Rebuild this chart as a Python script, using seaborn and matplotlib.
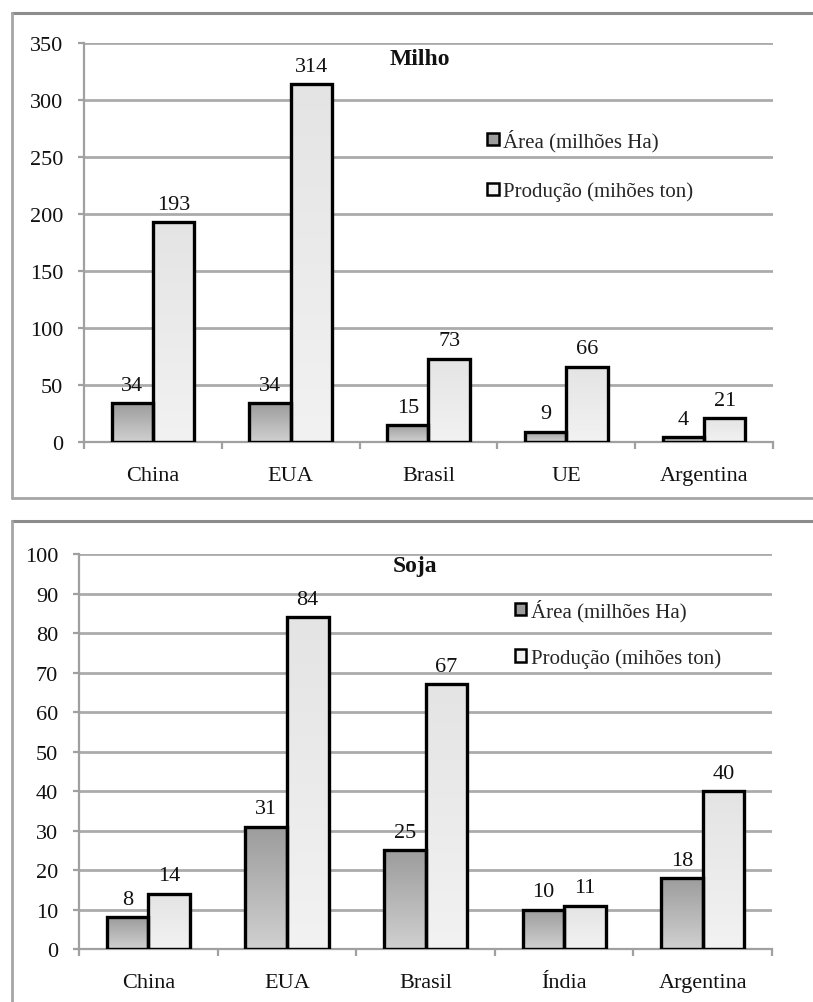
import numpy as np
import pandas as pd
import matplotlib
matplotlib.use("Agg")
import matplotlib.pyplot as plt
import seaborn as sns
from matplotlib.patches import Patch
from matplotlib.lines import Line2D
from matplotlib.colors import LinearSegmentedColormap

# Milho: área plantada e produção dos maiores produtores
milho_paises = ["China", "EUA", "Brasil", "UE", "Argentina"]
milho_area = [34, 34, 15, 9, 4]
milho_producao = [193, 314, 73, 66, 21]

# Soja: área plantada e produção dos maiores produtores
soja_paises = ["China", "EUA", "Brasil", "Índia", "Argentina"]
soja_area = [8, 31, 25, 10, 18]
soja_producao = [14, 84, 67, 11, 40]

serie_area = "Área (milhões Ha)"
serie_prod = "Produção (mihões ton)"

sns.set_theme(style="white")
plt.rcParams["font.family"] = ["Liberation Serif", "DejaVu Serif"]

GRID = "#ababab"
AXIS = "#a0a0a0"
AREA_TOPO, AREA_BASE = "#9c9c9c", "#d0d0d0"
PROD_TOPO, PROD_BASE = "#e4e4e4", "#f2f2f2"


def gradiente(ax, barra, c_topo, c_base):
    x0, y0 = barra.get_x(), barra.get_y()
    w, h = barra.get_width(), barra.get_height()
    cmap = LinearSegmentedColormap.from_list("grad", [c_base, c_topo])
    grad = np.linspace(0, 1, 256).reshape(-1, 1)
    im = ax.imshow(grad, extent=(x0, x0 + w, y0, y0 + h), origin="lower",
                   cmap=cmap, aspect="auto", zorder=2.5, interpolation="bilinear")
    im.set_clip_path(barra)


def grafico(ax, paises, area, prod, titulo, ymax, passo, pos_titulo,
            pos_legenda, espaco_legenda):
    df = pd.DataFrame({
        "pais": paises * 2,
        "serie": [serie_area] * len(paises) + [serie_prod] * len(paises),
        "valor": area + prod,
    })
    sns.barplot(data=df, x="pais", y="valor", hue="serie", order=paises,
                hue_order=[serie_area, serie_prod], palette=[AREA_TOPO, PROD_TOPO],
                width=0.6, saturation=1, edgecolor="black", linewidth=2.4,
                legend=False, ax=ax, zorder=3)

    cores = [(AREA_TOPO, AREA_BASE), (PROD_TOPO, PROD_BASE)]
    for cont, (ct, cb) in zip(ax.containers, cores):
        for barra in cont:
            barra.set_facecolor("none")
            gradiente(ax, barra, ct, cb)
        ax.bar_label(cont, fmt="%d", padding=6, fontsize=16, color="#111111")

    ax.set_xlim(-0.5, len(paises) - 0.5)
    ax.set_ylim(0, ymax)
    ax.set_yticks(np.arange(0, ymax + 1, passo))
    ax.set_xticks(np.arange(-0.5, len(paises), 1), minor=True)
    ax.yaxis.grid(True, color=GRID, linewidth=2)
    ax.set_axisbelow(True)

    ax.set_xlabel("")
    ax.set_ylabel("")
    for lado in ("top", "right"):
        ax.spines[lado].set_visible(False)
    for lado in ("left", "bottom"):
        ax.spines[lado].set_color(AXIS)
        ax.spines[lado].set_linewidth(1.6)

    ax.tick_params(axis="y", which="major", length=4, width=1.6, color=AXIS,
                   labelsize=16, labelcolor="#111111", pad=11, left=True)
    ax.tick_params(axis="x", which="major", length=0, labelsize=16,
                   labelcolor="#111111", pad=17)
    ax.tick_params(axis="x", which="minor", length=5, width=1.6, color=AXIS,
                   bottom=True, direction="out")

    ax.text(pos_titulo[0], pos_titulo[1], titulo, transform=ax.transAxes,
            ha="center", va="center", fontsize=17, fontweight="bold", color="#111111")

    alças = [Patch(facecolor=AREA_TOPO, edgecolor="black", linewidth=1.8),
             Patch(facecolor=PROD_BASE, edgecolor="black", linewidth=1.8)]
    ax.legend(alças, [serie_area, serie_prod], loc="center left",
              bbox_to_anchor=pos_legenda, frameon=False, fontsize=15,
              handlelength=0.55, handleheight=0.55, handletextpad=0.2,
              labelspacing=espaco_legenda, borderpad=0, borderaxespad=0)


fig = plt.figure(figsize=(8.13, 10.03), dpi=100)
fig.patch.set_facecolor("white")

ax1 = fig.add_axes([0.1033, 0.5583, 0.8475, 0.3978])
ax2 = fig.add_axes([0.0972, 0.0528, 0.8524, 0.3938])

grafico(ax1, milho_paises, milho_area, milho_producao, "Milho", 350, 50,
        (0.488, 0.962), (0.585, 0.694), 1.45)
grafico(ax2, soja_paises, soja_area, soja_producao, "Soja", 100, 10,
        (0.485, 0.972), (0.629, 0.799), 1.3)

# molduras dos dois quadros
W, H = 813, 1003


def linha(x0, y0, x1, y1, cor="#a6a6a6", lw=2.0):
    fig.add_artist(Line2D([x0 / W, x1 / W], [1 - y0 / H, 1 - y1 / H],
                          color=cor, linewidth=lw, transform=fig.transFigure))


linha(12, 14, 813, 14, cor="#8c8c8c", lw=2.2)
linha(12, 14, 12, 499)
linha(12, 499, 813, 499)
linha(12, 522, 813, 522, cor="#8c8c8c", lw=2.2)
linha(12, 522, 12, 1003)

fig.savefig("out.png", dpi=100)
